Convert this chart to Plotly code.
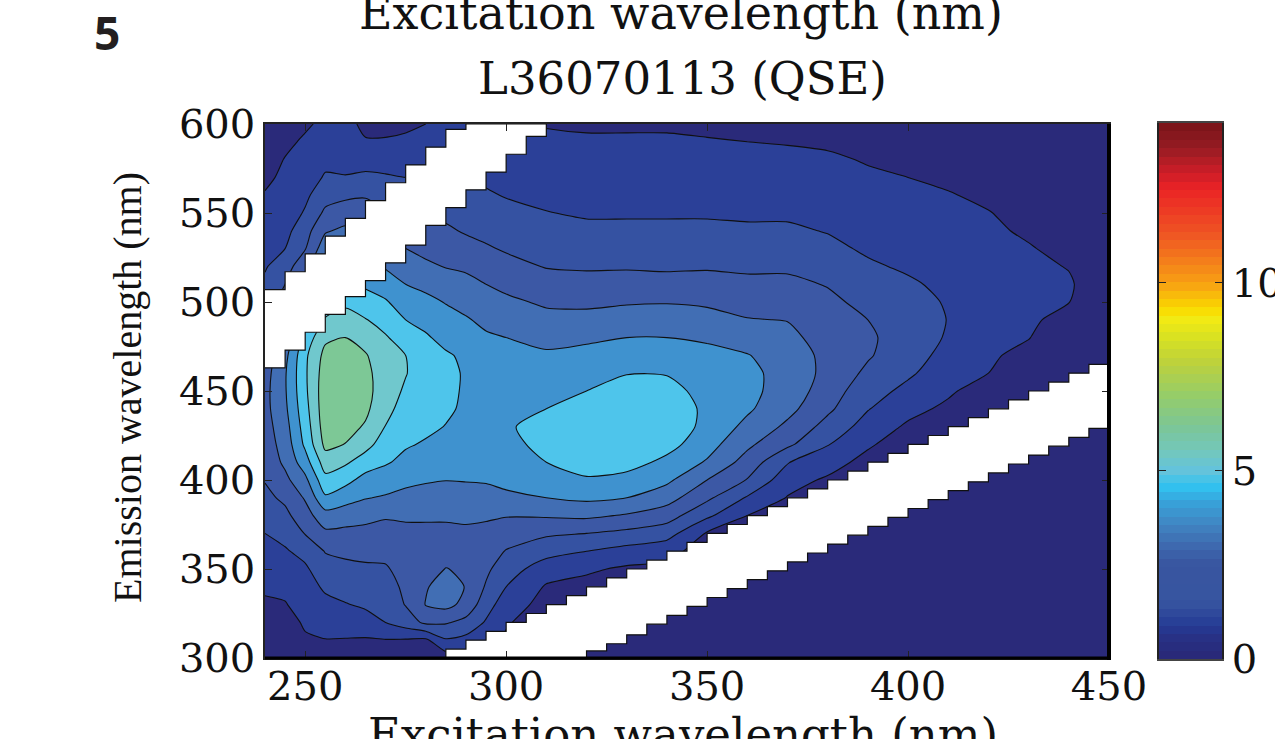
import numpy as np
import plotly.graph_objects as go

W, H = 1275, 739
# Excitation wavelengths (columns) and emission wavelengths (rows, 300..600 step 10)
excitation = [240,245,250,255,260,265,270,275,280,285,290,295,300,310,320,330,340,350,360,370,380,390,400,410,420,430,440,450]
emission = list(range(300, 601, 10))
LEVEL_STEP = 0.77

# Intensities (in units of one contour step), one list per excitation wavelength
ex240 = [.2,.4,.6,.85,1.15,1.4,1.7,2.0,2.4,2.75,3.05,3.3,3.5,3.6,3.7,3.7,3.6,3.4,3.2,2.8,2.5,2.2,1.9,1.75,1.55,1.3,1.05,.85,.7,.6,.5]
ex245 = [.3,.5,.7,.95,1.2,1.5,1.9,2.3,2.75,3.2,3.75,4.2,4.4,4.6,4.8,4.9,4.9,4.7,4.2,3.8,3.4,3.0,2.6,2.0,1.7,1.45,1.3,1.15,1.03,.85,.7]
ex250 = [.6,.9,1.1,1.35,1.6,1.85,2.3,3.05,3.6,4.1,4.75,5.55,6.2,6.45,6.65,6.8,6.85,6.8,6.4,5.7,5.0,4.3,3.6,2.95,2.6,2.1,1.8,1.5,1.3,1.1,.9]
ex255 = [.7,.97,1.35,1.75,2.15,2.6,3.05,3.8,4.6,5.85,6.7,7.5,8.25,8.5,8.6,8.6,8.5,8.3,7.8,7.1,6.4,5.8,5.3,4.6,3.9,3.2,2.6,2.1,1.75,1.4,1.15]
ex260 = [.6,.95,1.4,1.95,2.35,2.75,3.2,3.75,4.45,5.4,6.3,7.15,7.97,8.35,8.5,8.55,8.5,8.3,8.0,7.3,6.85,6.2,5.5,4.9,4.2,3.5,2.8,2.05,1.7,1.4,1.2]
ex265 = [.5,.9,1.6,2.15,2.45,2.85,3.25,3.7,4.3,5.05,5.65,6.5,7.35,7.9,8.2,8.3,8.25,8.08,7.6,7.05,6.4,5.85,5.3,4.7,4.1,3.5,2.9,2.2,1.6,1.05,.85]
ex270 = [.45,.95,2.0,2.35,2.6,2.9,3.25,3.65,4.1,4.9,5.5,6.1,6.5,6.97,7.3,7.5,7.5,7.4,7.1,6.6,6.1,5.5,4.9,4.3,3.7,3.1,2.6,2.1,1.6,1.05,.85]
ex275 = [.4,.9,2.5,3.05,3.2,3.35,3.5,3.75,4.15,4.7,5.25,5.75,6.1,6.35,6.6,6.85,7.05,7.0,6.5,6.0,5.5,5.0,4.5,4.0,3.5,3.0,2.5,2.0,1.6,1.1,.9]
ex280 = [.3,.8,3.2,4.05,3.9,3.6,3.5,3.75,4.15,4.6,5.1,5.5,5.9,6.2,6.4,6.45,6.45,6.3,6.1,5.75,5.25,4.75,4.2,3.7,3.3,2.9,2.5,2.05,1.6,1.2,1.0]
ex285 = [.5,1.9,3.1,4.3,4.5,4.03,3.6,3.75,4.15,4.55,5.02,5.3,5.6,5.97,6.15,6.2,6.2,6.1,5.75,5.35,4.95,4.5,3.95,3.55,3.15,2.8,2.4,1.95,1.6,1.25,1.05]
ex290 = [.8,1.7,2.7,3.7,3.95,3.85,3.7,3.85,4.15,4.6,5.05,5.25,5.5,5.7,5.85,5.9,5.92,5.85,5.5,5.1,4.65,4.25,3.85,3.35,2.9,2.6,2.3,2.0,1.65,1.3,1.1]
ex295 = [1.0,1.4,1.9,2.4,2.9,3.2,3.5,3.8,4.1,4.6,5.1,5.2,5.35,5.45,5.55,5.6,5.55,5.4,5.15,4.75,4.35,4.0,3.55,3.1,2.75,2.45,2.1,1.85,1.55,1.3,1.1]
ex300 = [.7,.85,1.1,1.5,2.0,2.45,2.95,3.5,4.05,4.8,5.25,5.5,5.7,5.9,5.98,5.85,5.65,5.4,5.0,4.6,4.2,3.75,3.3,2.9,2.55,2.25,1.95,1.75,1.5,1.25,1.05]
ex310 = [.2,.3,.45,.65,.9,1.5,2.35,3.15,4.1,5.0,5.5,6.0,6.3,6.3,6.0,5.8,5.45,5.15,4.7,4.3,3.85,3.4,2.95,2.6,2.3,2.03,1.8,1.6,1.4,1.15,.95]
ex320 = [0,.1,.25,.45,.7,1.15,2.0,3.0,4.2,5.2,5.87,6.5,6.8,6.8,6.5,6.0,5.6,5.25,4.85,4.3,3.8,3.3,2.9,2.55,2.2,1.9,1.7,1.5,1.3,1.1,.9]
ex330 = [0,.05,.15,.3,.55,.85,1.65,2.75,3.9,5.0,5.65,6.4,6.9,7.0,6.9,6.5,5.95,5.5,5.0,4.5,3.9,3.4,2.9,2.55,2.2,1.9,1.7,1.5,1.3,1.1,.9]
ex340 = [0,0,.05,.15,.4,.75,1.35,2.4,3.45,4.4,5.2,5.75,6.35,6.7,6.6,6.3,5.95,5.45,5.0,4.45,3.95,3.35,2.85,2.5,2.2,1.9,1.7,1.5,1.3,1.1,.9]
ex350 = [0,0,0,0,.1,.2,.5,.9,2.2,3.2,4.0,4.9,5.4,5.7,5.8,5.7,5.5,5.2,4.9,4.35,3.85,3.35,2.9,2.55,2.2,1.9,1.65,1.45,1.25,1.05,.85]
ex360 = [0,0,0,0,0,.05,.15,.3,1.0,1.9,2.95,3.6,4.2,4.75,5.15,5.25,5.2,5.05,4.55,4.05,3.6,3.2,2.85,2.5,2.15,1.85,1.6,1.4,1.2,1.0,.8]
ex370 = [0,0,0,0,0,0,0,0,.4,.95,1.4,2.05,3.2,3.8,4.3,4.6,4.7,4.5,4.25,3.97,3.6,3.2,2.85,2.5,2.15,1.85,1.6,1.4,1.2,.95,.75]
ex380 = [0,0,0,0,0,0,0,0,0,.3,.85,1.45,2.05,2.65,3.2,3.5,3.7,3.75,3.6,3.4,3.2,2.95,2.6,2.25,1.95,1.7,1.5,1.3,1.1,.9,.7]
ex390 = [0,0,0,0,0,0,0,0,0,0,.25,.65,1.15,1.6,2.05,2.4,2.8,3.1,3.15,3.0,2.75,2.45,2.15,1.85,1.65,1.5,1.3,1.1,.95,.75,.6]
ex400 = [0,0,0,0,0,0,0,0,0,0,0,.1,.4,.85,1.3,1.75,2.15,2.4,2.55,2.55,2.4,2.15,1.85,1.65,1.5,1.35,1.2,1.0,.85,.7,.55]
ex410 = [0,0,0,0,0,0,0,0,0,0,0,0,0,.35,.8,1.15,1.45,1.7,1.9,1.97,1.9,1.75,1.6,1.5,1.35,1.2,1.05,.85,.7,.55,.45]
ex420 = [0,0,0,0,0,0,0,0,0,0,0,0,0,0,0,.5,1.0,1.2,1.35,1.45,1.45,1.4,1.3,1.2,1.12,1.03,.85,.7,.55,.45,.35]
ex430 = [0,0,0,0,0,0,0,0,0,0,0,0,0,0,0,0,0,.6,1.05,1.2,1.25,1.25,1.15,1.05,.9,.75,.6,.5,.4,.35,.3]
ex440 = [0,0,0,0,0,0,0,0,0,0,0,0,0,0,0,0,0,0,0,.6,1.02,1.08,.97,.8,.65,.5,.4,.35,.3,.25,.2]
ex450 = [0,0,0,0,0,0,0,0,0,0,0,0,0,0,0,0,0,0,0,.2,.4,.5,.45,.4,.3,.25,.2,.2,.15,.1,.1]
columns = [ex240,ex245,ex250,ex255,ex260,ex265,ex270,ex275,ex280,ex285,ex290,ex295,ex300,ex310,ex320,ex330,ex340,ex350,ex360,ex370,ex380,ex390,ex400,ex410,ex420,ex430,ex440,ex450]
intensity = np.array(columns).T * LEVEL_STEP

# Scatter bands removed from the data (left excitation of each 5 nm step, emission edge of that step)
upper_low_ex = [240,245,250,255,260,265,270,275,280,285,290,295,300,305]
upper_low_em = [463,473,483,493,503,512,522,532,543,553,563,573,583,593]
upper_high_ex = [240,245,250,255,260,265,270,275,280,285]
upper_high_em = [507,517,527,537,547,557,567,577,587,597]
lower_top_ex = list(range(285, 450, 5))
lower_top_em = [305,310,315,320,325,330,335,340,345,350,355,360,365,370,375,380,385,390,395,400,405,410,415,420,425,430,435,440,445,450,455,460,465]
lower_bot_ex = list(range(320, 450, 5))
lower_bot_em = [304,308,313,319,324,329,334,339,344,349,354,359,364,369,374,379,384,389,394,399,404,409,414,419,424,429]

band_colors = ["#2a2a7a","#2b4098","#3552a2","#3c58a5","#416eb4","#3f92cf","#4ec5eb","#70c8cd","#7dc896"]
bar_anchor_values = [0,.6,.9,1.5,2.5,3.0,3.6,4.2,4.6,5.0,5.5,6.2,7.0,7.9,8.5,9.05,9.3,10.0,11.2,12.5,13.0,13.6,14.25]
bar_anchor_colors = ["#2a2876","#283287","#263c96","#3755a0","#3955a0","#3e69af","#4187c3","#37a5dc","#32c3f0","#64c3dc","#73c8be","#7dc696","#96cd69","#bed23c","#d7e123","#f3eb14","#fada00","#f8a014","#f05a23","#eb2326","#c81e28","#961c23","#781419"]

def stair(ex_list, em_list, end_ex):
    pts = []
    for i, (x, y) in enumerate(zip(ex_list, em_list)):
        next_x = ex_list[i + 1] if i + 1 < len(ex_list) else end_ex
        pts += [(x, y), (next_x, y)]
    return pts

scale = []
n = len(band_colors)
for i, c in enumerate(band_colors):
    scale += [[i / n, c], [(i + 1) / n, c]]

fig = go.Figure()
fig.add_trace(go.Contour(
    x=excitation, y=emission, z=intensity,
    zmin=0, zmax=n * LEVEL_STEP, zauto=False, colorscale=scale, showscale=False,
    autocontour=False,
    contours=dict(coloring="fill", showlines=True, start=LEVEL_STEP, end=8 * LEVEL_STEP, size=LEVEL_STEP),
    line=dict(color="#101010", width=1.1, smoothing=0.7),
    hoverinfo="skip",
))

up = stair(upper_high_ex, upper_high_em, 290) + [(290, 600), (310, 600)] + stair(upper_low_ex, upper_low_em, 310)[::-1]
fig.add_trace(go.Scatter(x=[p[0] for p in up], y=[p[1] for p in up], mode="lines", fill="toself",
                         fillcolor="white", line=dict(color="#101010", width=1.2), hoverinfo="skip", showlegend=False))
lo = [(285, 300)] + stair(lower_top_ex, lower_top_em, 450) + stair(lower_bot_ex, lower_bot_em, 450)[::-1] + [(320, 300)]
fig.add_trace(go.Scatter(x=[p[0] for p in lo], y=[p[1] for p in lo], mode="lines", fill="toself",
                         fillcolor="white", line=dict(color="#101010", width=1.2), hoverinfo="skip", showlegend=False))

# colour bar
bar_values = np.linspace(0, 14.25, 65)
bar_centres = (bar_values[:-1] + bar_values[1:]) / 2
bar_rgb = []
for v in bar_centres:
    rgb = []
    for ch in range(3):
        rgb.append(np.interp(v, bar_anchor_values, [int(c[1 + 2 * ch:3 + 2 * ch], 16) for c in bar_anchor_colors]))
    bar_rgb.append("rgb(%d,%d,%d)" % tuple(rgb))
bar_scale = []
for i, c in enumerate(bar_rgb):
    bar_scale += [[i / 64, c], [(i + 1) / 64, c]]
fig.add_trace(go.Heatmap(x=[0, 1], y=bar_centres, z=[[v, v] for v in bar_centres], xaxis="x2", yaxis="y2",
                         zmin=0, zmax=14.25, colorscale=bar_scale, showscale=False, hoverinfo="skip"))

tick_font = dict(family="DejaVu Serif", size=40, color="#111111")
px = lambda x: x / W
py = lambda y: 1 - y / H
axis_common = dict(showgrid=False, zeroline=False, showline=True, linecolor="#222222", linewidth=1.5, mirror="ticks",
                   ticks="inside", ticklen=7, tickcolor="#222222", tickfont=tick_font, automargin=False)
fig.update_layout(
    width=W, height=H, margin=dict(l=0, r=0, t=0, b=0), paper_bgcolor="white", plot_bgcolor="white",
    showlegend=False,
    xaxis=dict(domain=[px(265), px(1109)], range=[240, 450], tickvals=[250, 300, 350, 400, 450], ticklabelstandoff=-8, **axis_common),
    yaxis=dict(domain=[py(658), py(124)], range=[300, 600], tickvals=[300, 350, 400, 450, 500, 550, 600], **axis_common),
    xaxis2=dict(domain=[px(1159), px(1222)], range=[0, 1], anchor="y2", showticklabels=False, ticks="", showline=True,
                linecolor="#444444", linewidth=1.5, mirror=True, showgrid=False, zeroline=False, automargin=False),
    yaxis2=dict(domain=[py(659), py(123)], range=[0, 14.25], anchor="x2", side="right", tickvals=[0, 5, 10], **axis_common),
    annotations=[
        dict(text="5", x=px(107), y=py(32), xref="paper", yref="paper", showarrow=False, xanchor="center", yanchor="middle",
             font=dict(family="Noto Sans", size=46, color="#231f20", weight="bold")),
        dict(text="Excitation wavelength (nm)", x=px(681), y=py(13), xref="paper", yref="paper", showarrow=False,
             xanchor="center", yanchor="middle", font=dict(family="DejaVu Serif", size=46, color="#111111")),
        dict(text="L36070113 (QSE)", x=px(682), y=py(79), xref="paper", yref="paper", showarrow=False,
             xanchor="center", yanchor="middle", font=dict(family="DejaVu Serif", size=45, color="#111111")),
        dict(text="Excitation wavelength (nm)", x=px(683), y=py(734), xref="paper", yref="paper", showarrow=False,
             xanchor="center", yanchor="middle", font=dict(family="DejaVu Serif", size=45, color="#111111")),
        dict(text="Emission wavelength (nm)", x=px(127), y=py(388), xref="paper", yref="paper", showarrow=False,
             xanchor="center", yanchor="middle", textangle=-90, font=dict(family="Liberation Serif", size=40, color="#111111")),
    ],
    shapes=[
        dict(type="line", xref="paper", yref="paper", x0=px(1109), x1=px(1109), y0=py(660), y1=py(124), line=dict(color="black", width=4)),
        dict(type="line", xref="paper", yref="paper", x0=px(265), x1=px(1111), y0=py(658), y1=py(658), line=dict(color="black", width=3)),
    ],
)
fig.write_html("out.html", config=dict(displayModeBar=False),
               post_script="document.body.style.margin='0';document.body.style.overflow='hidden';")
